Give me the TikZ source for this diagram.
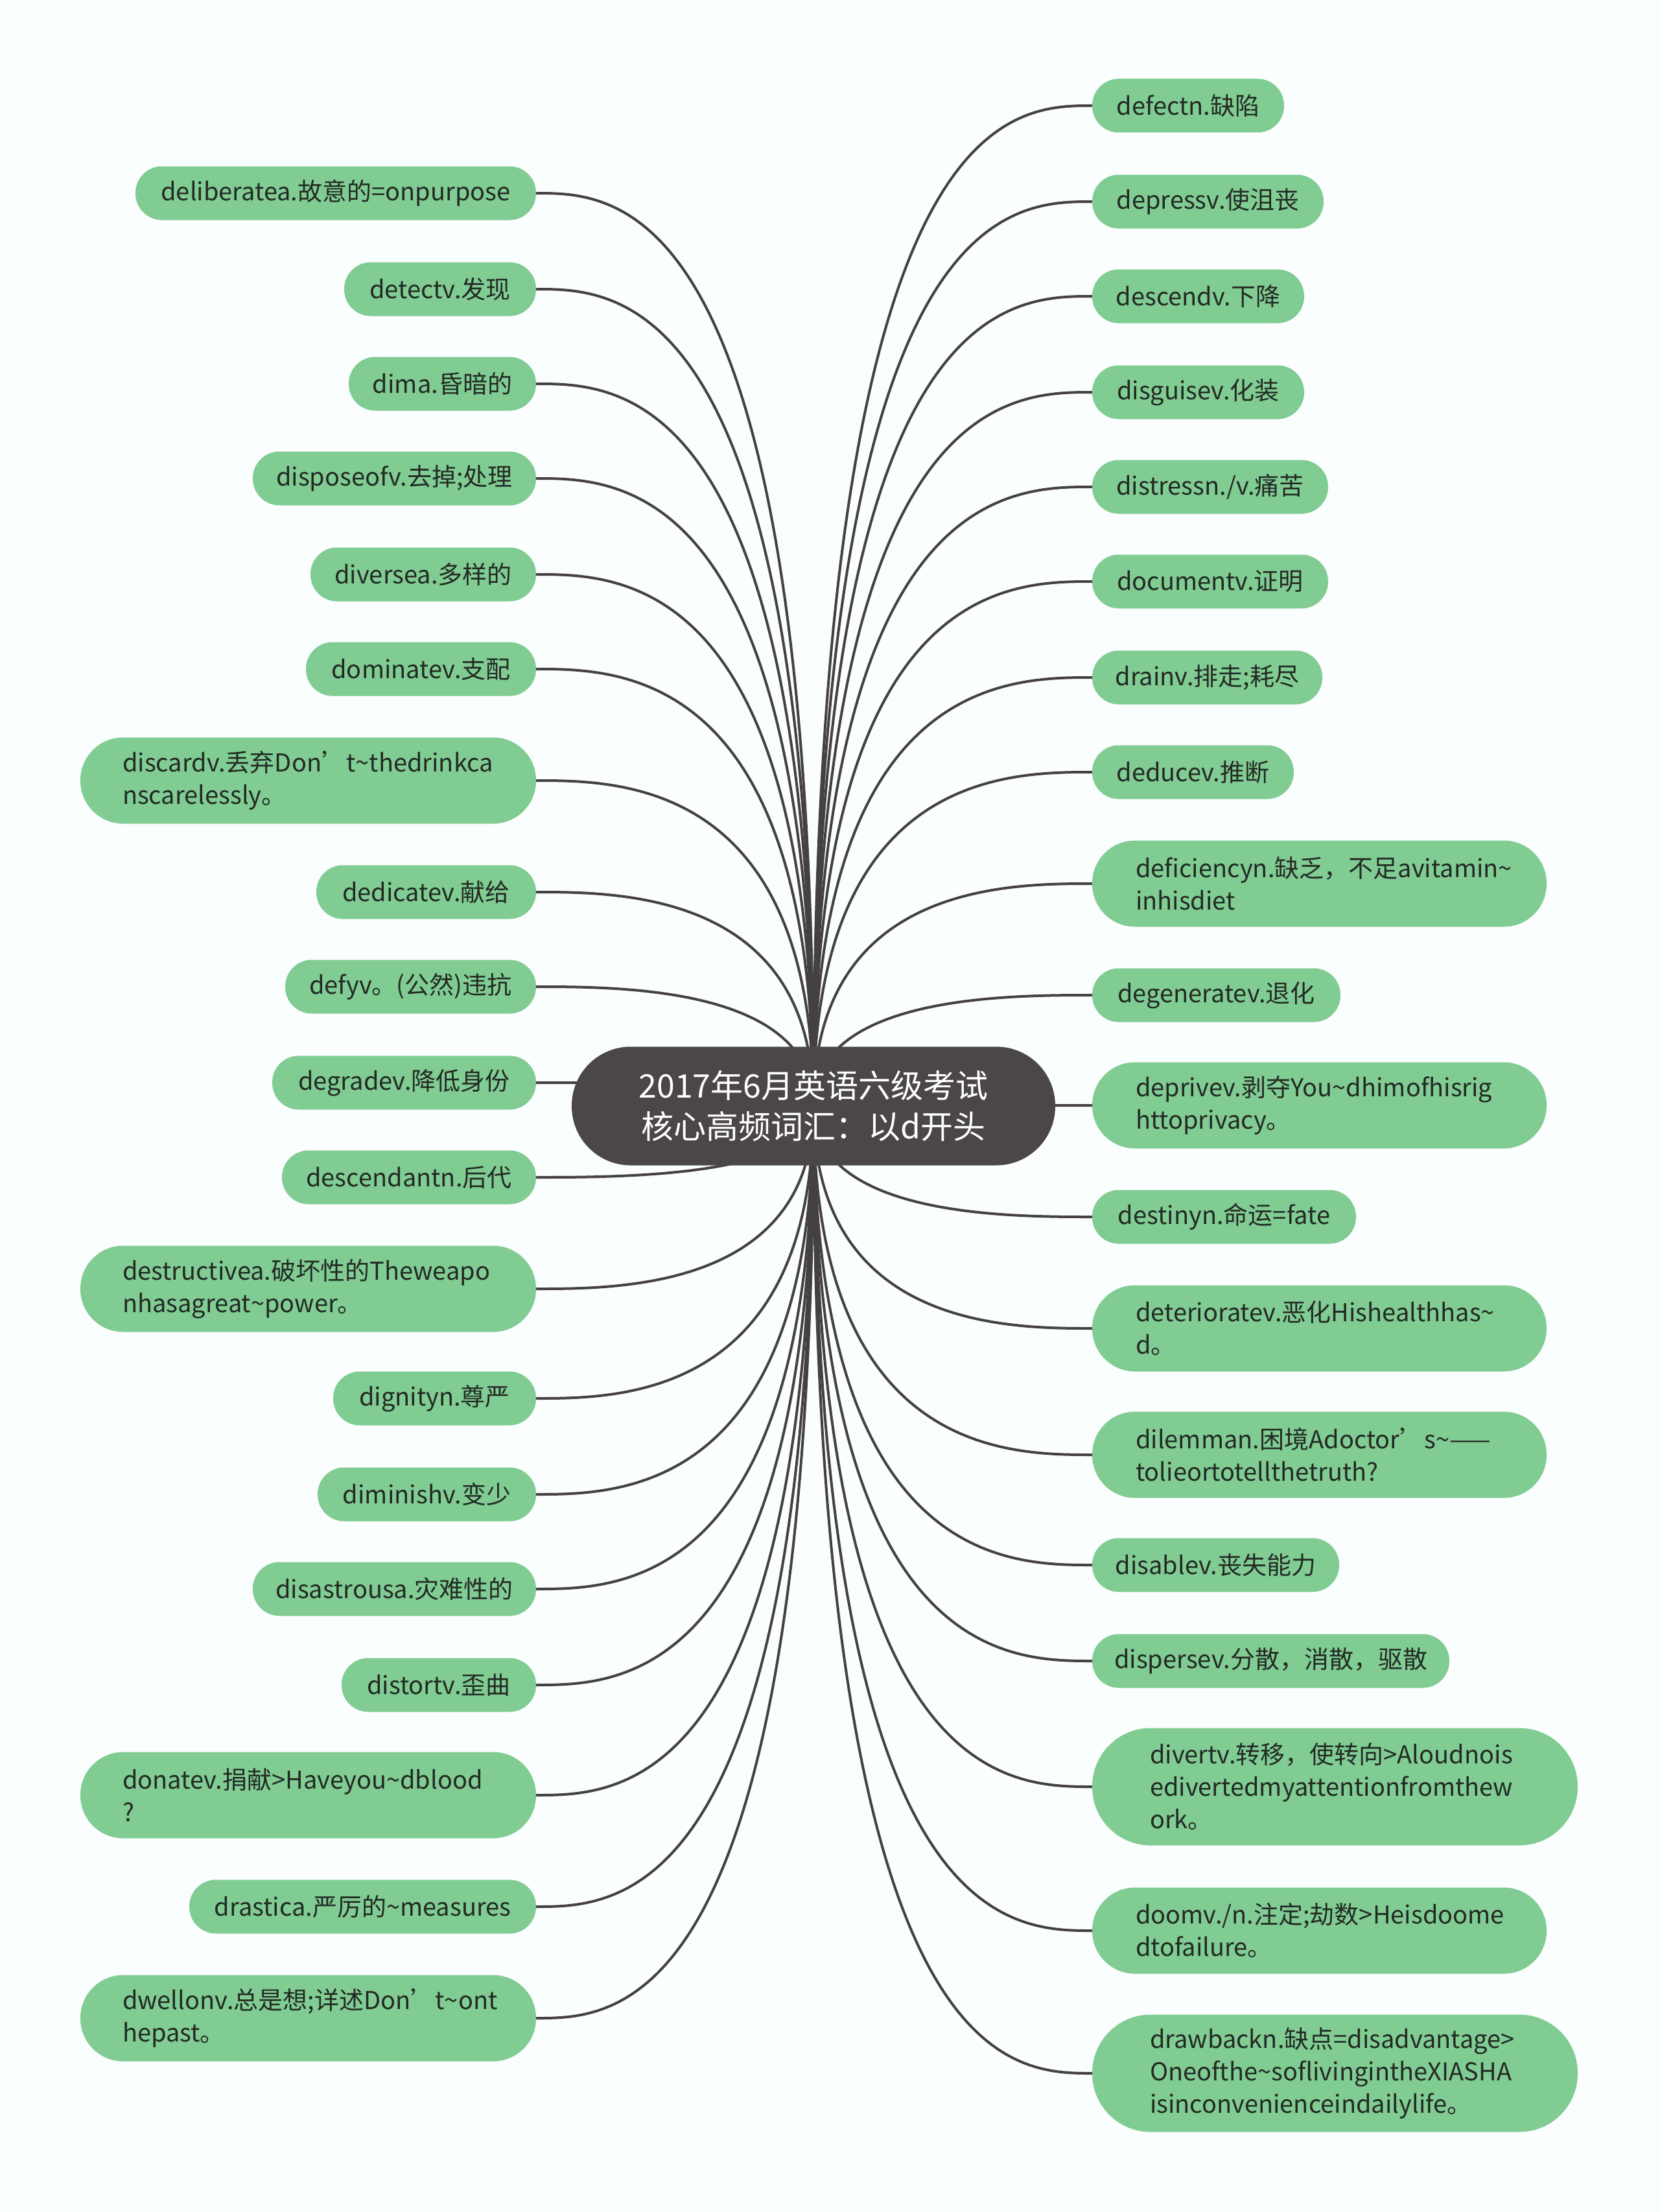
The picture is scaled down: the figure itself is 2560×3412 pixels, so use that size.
\documentclass[tikz,border=0pt]{standalone}
\usepackage{fontspec}
\setmainfont{Noto Sans CJK SC}
\usetikzlibrary{calc}
\definecolor{leafgreen}{HTML}{80CC93}
\definecolor{leaftext}{HTML}{232A24}
\definecolor{rootfill}{HTML}{4B4647}
\definecolor{linecol}{HTML}{454142}
\definecolor{bgcol}{HTML}{FBFEFE}
\pgfdeclarelayer{bg}
\pgfsetlayers{bg,main}
\newcommand\tld{\textasciitilde}
\newcommand\lx[1]{\mbox{#1}}
\newcommand\lconn[1]{\draw[conn] let \p1=(c.center), \p2=(#1.east) in (\p1) .. controls (\x1,\y2) and ({0.3*\x1+0.7*\x2},\y2) .. (\p2);}
\newcommand\rconn[1]{\draw[conn] let \p1=(c.center), \p2=(#1.west) in (\p1) .. controls (\x1,\y2) and ({0.3*\x1+0.7*\x2},\y2) .. (\p2);}
\tikzset{
  leaf/.style={fill=leafgreen, text=leaftext, inner sep=0pt, font=\fontsize{38}{50}\selectfont},
  one/.style={leaf, minimum height=83pt, rounded corners=41pt},
  two/.style={leaf, minimum height=133pt, rounded corners=66pt, align=left},
  three/.style={leaf, minimum height=181pt, rounded corners=90pt, align=left},
  root/.style={fill=rootfill, text=white, inner sep=0pt, minimum width=746pt, minimum height=183pt,
    rounded corners=91pt, align=center, font=\fontsize{50}{63}\selectfont},
  conn/.style={draw=linecol, line width=4pt},
}
\begin{document}
\begin{tikzpicture}[x=1pt,y=-1pt]
\begin{pgfonlayer}{bg}
\fill[bgcol] (0,0) rectangle (2560,3412);
\end{pgfonlayer}
\useasboundingbox (0,0) rectangle (2560,3412);

\node[root] (c) at (1255,1706) {2017年6月英语六级考试\\核心高频词汇：以d开头};

% left side
\node[one, minimum width=618pt] (L1) at (518,298) {deliberatea.故意的=onpurpose};
\node[one, minimum width=296pt] (L2) at (679,446) {detectv.发现};
\node[one, minimum width=289pt] (L3) at (682.5,592) {dima.昏暗的};
\node[one, minimum width=437pt] (L4) at (608.5,738) {disposeofv.去掉;处理};
\node[one, minimum width=348pt] (L5) at (653,886) {diversea.多样的};
\node[one, minimum width=355pt] (L6) at (649.5,1032) {dominatev.支配};
\node[two, minimum width=703pt, text width=573pt] (L7) at (475.5,1204) {\lx{discardv.丢弃Don’t\tld thedrinkca}\\\lx{nscarelessly。}};
\node[one, minimum width=339pt] (L8) at (657.5,1376) {dedicatev.献给};
\node[one, minimum width=387pt] (L9) at (633.5,1522) {defyv。(公然)违抗};
\node[one, minimum width=407pt] (L10) at (623.5,1670) {degradev.降低身份};
\node[one, minimum width=392pt] (L11) at (631,1816) {descendantn.后代};
\node[two, minimum width=703pt, text width=573pt] (L12) at (475.5,1988) {\lx{destructivea.破坏性的Theweapo}\\\lx{nhasagreat\tld power。}};
\node[one, minimum width=313pt] (L13) at (670.5,2157) {dignityn.尊严};
\node[one, minimum width=337pt] (L14) at (658.5,2305) {diminishv.变少};
\node[one, minimum width=437pt] (L15) at (608.5,2451) {disastrousa.灾难性的};
\node[one, minimum width=300pt] (L16) at (677,2599) {distortv.歪曲};
\node[two, minimum width=703pt, text width=573pt] (L17) at (475.5,2769) {\lx{donatev.捐献>Haveyou\tld dblood}\\\lx{?}};
\node[one, minimum width=535pt] (L18) at (559.5,2941) {drastica.严厉的\tld measures};
\node[two, minimum width=703pt, text width=573pt] (L19) at (475.5,3113) {\lx{dwellonv.总是想;详述Don’t\tld ont}\\\lx{hepast。}};

% right side
\node[one, minimum width=296pt] (R1) at (1833,163) {defectn.缺陷};
\node[one, minimum width=357pt] (R2) at (1863.5,311) {depressv.使沮丧};
\node[one, minimum width=327pt] (R3) at (1848.5,457) {descendv.下降};
\node[one, minimum width=327pt] (R4) at (1848.5,605) {disguisev.化装};
\node[one, minimum width=364pt] (R5) at (1867,751) {distressn./v.痛苦};
\node[one, minimum width=364pt] (R6) at (1867,897) {documentv.证明};
\node[one, minimum width=355pt] (R7) at (1862.5,1045) {drainv.排走;耗尽};
\node[one, minimum width=311pt] (R8) at (1840.5,1191) {deducev.推断};
\node[two, minimum width=701pt, text width=567pt] (R9) at (2035.5,1363) {\lx{deficiencyn.缺乏，不足avitamin\tld}\\\lx{inhisdiet}};
\node[one, minimum width=383pt] (R10) at (1876.5,1535) {degeneratev.退化};
\node[two, minimum width=701pt, text width=567pt] (R11) at (2035.5,1705) {\lx{deprivev.剥夺You\tld dhimofhisrig}\\\lx{httoprivacy。}};
\node[one, minimum width=407pt] (R12) at (1888.5,1877) {destinyn.命运=fate};
\node[two, minimum width=701pt, text width=567pt] (R13) at (2035.5,2049) {\lx{deterioratev.恶化Hishealthhas\tld}\\\lx{d。}};
\node[two, minimum width=701pt, text width=567pt] (R14) at (2035.5,2244) {\lx{dilemman.困境Adoctor’s\tld ——}\\\lx{tolieortotellthetruth?}};
\node[one, minimum width=381pt] (R15) at (1875.5,2414) {disablev.丧失能力};
\node[one, minimum width=551pt] (R16) at (1960.5,2562) {dispersev.分散，消散，驱散};
\node[three, minimum width=749pt, text width=571pt] (R17) at (2059.5,2756) {\lx{divertv.转移，使转向>Aloudnois}\\\lx{edivertedmyattentionfromthew}\\\lx{ork。}};
\node[two, minimum width=701pt, text width=567pt] (R18) at (2035.5,2978) {\lx{doomv./n.注定;劫数>Heisdoome}\\\lx{dtofailure。}};
\node[three, minimum width=749pt, text width=571pt] (R19) at (2059.5,3198) {\lx{drawbackn.缺点=disadvantage>}\\\lx{Oneofthe\tld soflivingintheXIASHA}\\\lx{isinconvenienceindailylife。}};

\begin{pgfonlayer}{bg}
\lconn{L1}\lconn{L2}\lconn{L3}\lconn{L4}\lconn{L5}\lconn{L6}\lconn{L7}\lconn{L8}\lconn{L9}\lconn{L10}
\lconn{L11}\lconn{L12}\lconn{L13}\lconn{L14}\lconn{L15}\lconn{L16}\lconn{L17}\lconn{L18}\lconn{L19}
\rconn{R1}\rconn{R2}\rconn{R3}\rconn{R4}\rconn{R5}\rconn{R6}\rconn{R7}\rconn{R8}\rconn{R9}\rconn{R10}
\rconn{R11}\rconn{R12}\rconn{R13}\rconn{R14}\rconn{R15}\rconn{R16}\rconn{R17}\rconn{R18}\rconn{R19}
\end{pgfonlayer}
\end{tikzpicture}
\end{document}
